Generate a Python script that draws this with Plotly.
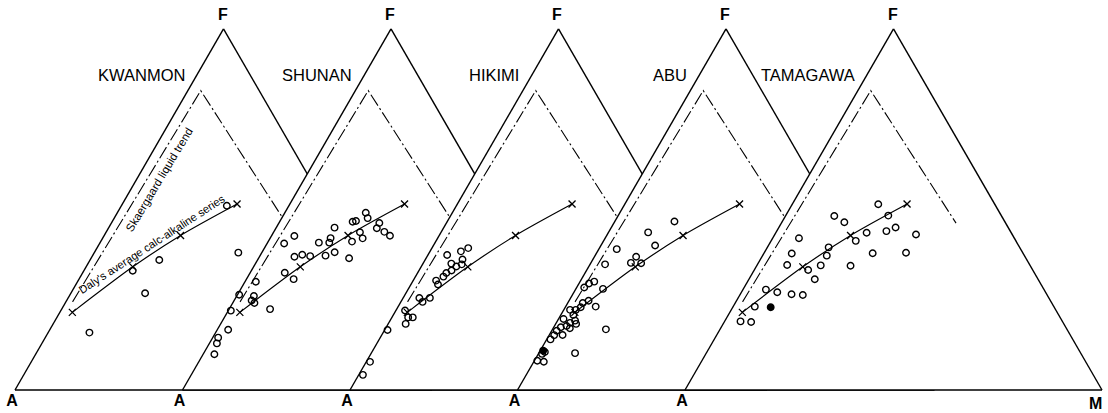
import plotly.graph_objects as go

# ---------------- data (A = alkalis, F = FeO*, M = MgO; percent) ----------------
SITES = ["KWANMON", "SHUNAN", "HIKIMI", "ABU", "TAMAGAWA"]

KWANMON_A = [23.7, 27.4, 47.4, 55.2, 55.4, 74.2]
KWANMON_F = [51.0, 38.0, 36.0, 33.0, 26.8, 15.9]
KWANMON_M = [25.3, 34.5, 16.6, 11.7, 17.8, 9.9]

SHUNAN_A = [31.5, 31.8, 35.9, 35.0, 29.7, 31.0, 29.7, 28.9, 41.1, 35.6, 35.8, 38.8,
            51.9, 55.4, 46.9, 43.5, 44.4, 44.4, 47.1, 41.8, 50.9, 52.6, 54.7, 59.3,
            58.0, 67.5, 73.3, 69.8, 71.1, 70.7, 67.8, 77.5, 80.7, 84.2, 85.3, 87.5]
SHUNAN_F = [49.1, 47.6, 46.6, 46.8, 46.3, 44.8, 43.8, 42.7, 45.0, 43.7, 42.0, 41.1,
            42.7, 40.6, 40.8, 42.1, 40.8, 38.1, 37.2, 36.5, 37.1, 37.5, 36.9, 32.5,
            30.7, 30.0, 26.4, 26.0, 24.8, 24.1, 22.4, 22.0, 16.7, 14.5, 12.9, 9.9]
SHUNAN_M = [19.4, 20.6, 17.5, 18.2, 24.1, 24.2, 26.5, 28.4, 14.0, 20.7, 22.2, 20.1,
            5.5, 4.1, 12.3, 14.5, 14.8, 17.4, 15.7, 21.7, 12.1, 10.0, 8.4, 8.3,
            11.3, 2.6, 0.4, 4.1, 4.2, 5.2, 9.8, 0.6, 2.6, 1.3, 1.8, 2.7]

HIKIMI_A = [52.0, 54.2, 58.0, 54.9, 58.2, 55.8, 57.4, 59.1, 60.7, 61.9, 64.2,
            64.3, 70.7, 70.4, 68.1, 75.8, 76.0, 74.9, 77.5, 82.7, 91.3, 94.9]
HIKIMI_F = [39.3, 38.4, 37.4, 36.1, 35.0, 34.8, 34.2, 33.1, 32.4, 31.4, 30.3,
            29.2, 25.5, 24.4, 25.5, 22.0, 20.1, 20.1, 18.3, 16.6, 7.8, 4.2]
HIKIMI_M = [8.7, 7.4, 4.6, 8.9, 6.8, 9.4, 8.4, 7.8, 6.9, 6.7, 5.5,
            6.5, 3.9, 5.2, 6.4, 2.2, 3.9, 5.0, 4.2, 0.7, 0.9, 1.0]

ABU_A = [39.0, 46.8, 47.0, 56.7, 53.1, 55.2, 52.8, 61.6, 66.6, 68.1, 69.8, 65.5,
         70.6, 72.3, 69.7, 73.4, 75.0, 76.3, 76.2, 79.2, 76.6, 76.8, 78.1, 79.3,
         81.0, 78.9, 82.4, 81.5, 83.6, 85.0, 70.4, 88.4, 88.1, 89.1, 91.3, 89.7, 81.1]
ABU_F = [46.6, 43.6, 40.0, 39.0, 36.9, 35.2, 35.1, 34.8, 30.0, 29.5, 28.4, 28.0,
         24.7, 24.1, 23.1, 22.9, 22.2, 22.2, 20.8, 19.7, 19.2, 18.3, 18.6, 17.7,
         17.4, 17.1, 16.4, 15.2, 15.2, 14.0, 16.8, 10.9, 10.5, 10.0, 8.1, 7.8, 10.2]
ABU_M = [14.3, 9.5, 13.0, 4.3, 10.0, 9.6, 12.1, 3.6, 3.4, 2.4, 1.8, 6.5,
         4.7, 3.6, 7.2, 3.7, 2.9, 1.5, 3.0, 1.2, 4.2, 4.9, 3.3, 2.9,
         1.7, 4.0, 1.2, 3.2, 1.2, 0.9, 12.8, 0.7, 1.3, 0.9, 0.7, 2.4, 8.7]

TAMAGAWA_A = [27.9, 27.1, 40.1, 38.6, 34.7, 29.7, 27.0, 23.1, 51.6, 38.4, 45.8, 55.5, 36.1, 28.0,
              47.4, 58.2, 50.2, 43.1, 53.8, 53.6, 66.7, 64.4, 61.2, 58.6, 71.8, 68.0, 76.8, 74.2]
TAMAGAWA_F = [51.4, 48.3, 48.2, 46.5, 43.6, 44.0, 45.0, 43.1, 42.0, 41.3, 39.5, 37.8, 37.9, 38.0,
              37.2, 34.6, 34.5, 34.4, 33.2, 30.7, 27.8, 27.1, 26.5, 26.3, 23.1, 22.9, 18.9, 18.7]
TAMAGAWA_M = [20.6, 24.6, 11.7, 15.0, 21.8, 26.3, 28.0, 33.9, 6.3, 20.3, 14.7, 6.7, 26.1, 34.0,
              15.4, 7.2, 15.3, 22.5, 12.9, 15.8, 5.5, 8.6, 12.3, 15.1, 5.2, 9.1, 3.8, 6.4]

# indices of analyses drawn as solid dots
FILLED_POINTS = {"ABU": [31], "TAMAGAWA": [25]}

# Daly's average calc-alkaline series (reference curve, crosses at the averages)
DALY_A = [75.5, 54.7, 38.9, 21.0]
DALY_F = [21.5, 34.1, 42.8, 51.5]
DALY_M = [3.0, 11.2, 18.3, 27.5]

# Skaergaard liquid trend (reference curve)
SKAER_A = [74.0, 14.0, 11.9]
SKAER_F = [24.4, 82.9, 46.2]
SKAER_M = [1.6, 3.1, 41.9]

SITE_DATA = {
    "KWANMON": (KWANMON_A, KWANMON_F, KWANMON_M),
    "SHUNAN": (SHUNAN_A, SHUNAN_F, SHUNAN_M),
    "HIKIMI": (HIKIMI_A, HIKIMI_F, HIKIMI_M),
    "ABU": (ABU_A, ABU_F, ABU_M),
    "TAMAGAWA": (TAMAGAWA_A, TAMAGAWA_F, TAMAGAWA_M),
}

# ---------------- layout geometry ----------------
FIG_W, FIG_H = 1108, 413
SIDE_PX = 417.0
LEFT_PX = [15.0, 182.5, 350.0, 517.5, 685.0]
BASE_PX = 23.0            # distance of the common base line from the bottom
TRI_H = SIDE_PX * 3 ** 0.5 / 2

LABEL_FONT = dict(family="Liberation Sans, Arial, sans-serif", size=16, color="black")
NAME_FONT = dict(family="Liberation Sans, Arial, sans-serif", size=16.5, color="black")
NOTE_FONT = dict(family="Liberation Sans, Arial, sans-serif", size=11.2, color="black")

fig = go.Figure()
layout = dict(
    width=FIG_W, height=FIG_H,
    margin=dict(l=0, r=0, t=0, b=0, pad=0),
    paper_bgcolor="white",
    showlegend=False,
    annotations=[],
)

axis_common = dict(showticklabels=False, ticks="", showgrid=False,
                   showline=True, linecolor="black", linewidth=1.4, min=0)

for i, site in enumerate(SITES):
    key = "ternary" if i == 0 else f"ternary{i + 1}"
    x0 = LEFT_PX[i] / FIG_W
    x1 = (LEFT_PX[i] + SIDE_PX) / FIG_W
    y0 = BASE_PX / FIG_H
    y1 = (BASE_PX + TRI_H) / FIG_H
    layout[key] = dict(
        domain=dict(x=[x0, x1], y=[y0, y1]),
        sum=100,
        bgcolor="white",
        aaxis=dict(title=dict(text=""), **axis_common),
        baxis=dict(title=dict(text="<b>A</b>", font=LABEL_FONT), **axis_common),
        caxis=dict(title=dict(text=""), **axis_common),
    )

    # Skaergaard liquid trend
    fig.add_trace(go.Scatterternary(
        subplot=key, a=SKAER_F, b=SKAER_A, c=SKAER_M, mode="lines",
        line=dict(color="black", width=1.1, dash="13px,3px,2px,3px"),
        hoverinfo="skip"))
    # Daly's average calc-alkaline series
    fig.add_trace(go.Scatterternary(
        subplot=key, a=DALY_F, b=DALY_A, c=DALY_M, mode="lines+markers",
        line=dict(color="black", width=1.2, shape="spline", smoothing=0.8),
        marker=dict(symbol="x-thin", size=7, color="black",
                    line=dict(color="black", width=1.3)),
        hoverinfo="skip"))
    # analyses
    A, F, M = SITE_DATA[site]
    filled = FILLED_POINTS.get(site, [])
    symbols = ["circle" if k in filled else "circle-open" for k in range(len(A))]
    fig.add_trace(go.Scatterternary(
        subplot=key, a=F, b=A, c=M, mode="markers", cliponaxis=False,
        marker=dict(symbol=symbols, size=6.5, color="black",
                    line=dict(color="black", width=1.4)),
        name=site))

    apex_x = (x0 + x1) / 2
    # F vertex label above the apex
    layout["annotations"].append(dict(
        text="<b>F</b>", xref="paper", yref="paper", x=apex_x - 1 / FIG_W, y=1 - 14 / FIG_H,
        xanchor="center", yanchor="middle", showarrow=False, font=LABEL_FONT))
    # locality name, right-aligned left of the apex
    layout["annotations"].append(dict(
        text=site, xref="paper", yref="paper", x=apex_x - 37 / FIG_W, y=1 - 75 / FIG_H,
        xanchor="right", yanchor="middle", showarrow=False, font=NAME_FONT))

# M corner label
layout["annotations"].append(dict(
    text="<b>M</b>", xref="paper", yref="paper", x=1095 / FIG_W, y=1 - 403 / FIG_H,
    xanchor="center", yanchor="middle", showarrow=False, font=LABEL_FONT))

# curve captions in the first diagram
layout["annotations"].append(dict(
    text="Daly's average calc-alkaline series", xref="paper", yref="paper",
    x=152 / FIG_W, y=1 - 244 / FIG_H, textangle=-33, showarrow=False,
    xanchor="center", yanchor="middle", font=NOTE_FONT))
layout["annotations"].append(dict(
    text="Skaergaard liquid trend", xref="paper", yref="paper",
    x=159 / FIG_W, y=1 - 180 / FIG_H, textangle=-59, showarrow=False,
    xanchor="center", yanchor="middle", font=dict(NOTE_FONT, size=11.5)))

fig.update_layout(**layout)
fig.write_html("out.html", config={"displayModeBar": False},
               post_script="document.body.style.margin='0px';")
